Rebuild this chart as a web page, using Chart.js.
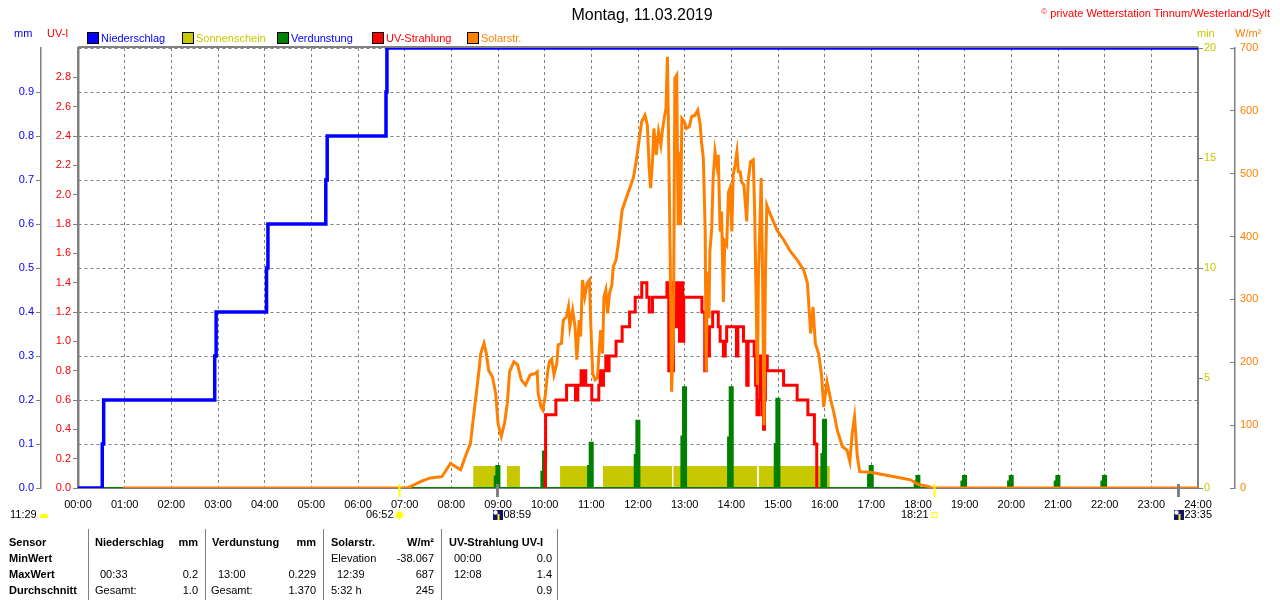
<!DOCTYPE html>
<html lang="de">
<head>
<meta charset="utf-8">
<title>Montag, 11.03.2019</title>
<script src="https://cdn.jsdelivr.net/npm/chart.js@4.4.1/dist/chart.umd.min.js"></script>
<style>
  html, body { margin: 0; padding: 0; background: #fff; }
  #page { position: relative; width: 1280px; height: 600px; overflow: hidden;
          font-family: "Liberation Sans", Arial, sans-serif; font-size: 11px; color: #000; }
  #page canvas { position: absolute; left: 0; top: 0; }
  .t { position: absolute; white-space: nowrap; line-height: 12px; height: 12px; }
  .r { text-align: right; }
  .b { font-weight: bold; }
  .sq { position: absolute; top: 32px; width: 10px; height: 10px; border: 1px solid #000; }
  .sep { position: absolute; top: 529px; width: 1px; height: 71px; background: #808080; }
</style>
</head>
<body>
<div id="page">
  <canvas id="chart" width="1280" height="600"></canvas>

  <!-- header -->
  <div class="t" style="left:0;width:1284px;text-align:center;top:6px;font-size:16px;line-height:18px;height:18px;">Montag, 11.03.2019</div>
  <div class="t r" style="right:10px;top:6px;color:#ff0000;"><span style="font-size:8px;vertical-align:3px;">&copy;</span> private Wetterstation Tinnum/Westerland/Sylt</div>

  <!-- axis units -->
  <div class="t" style="left:14px;top:27px;color:#0000ff;">mm</div>
  <div class="t" style="left:47px;top:27px;color:#ff0000;">UV-I</div>
  <div class="t" style="left:1197px;top:27px;color:#c8c800;">min</div>
  <div class="t" style="left:1235px;top:27px;color:#ff8000;">W/m²</div>

  <!-- legend -->
  <div class="sq" style="left:87px;background:#0000ff;"></div>
  <div class="t" style="left:101px;top:32px;color:#0000ff;">Niederschlag</div>
  <div class="sq" style="left:182px;background:#c8c800;"></div>
  <div class="t" style="left:196px;top:32px;color:#c8c800;">Sonnenschein</div>
  <div class="sq" style="left:277px;background:#008000;"></div>
  <div class="t" style="left:291px;top:32px;color:#0000ff;">Verdunstung</div>
  <div class="sq" style="left:372px;background:#ff0000;"></div>
  <div class="t" style="left:386px;top:32px;color:#ff0000;">UV-Strahlung</div>
  <div class="sq" style="left:467px;background:#ff8000;"></div>
  <div class="t" style="left:481px;top:32px;color:#ff8000;">Solarstr.</div>

  <!-- summary table -->
  <div class="sep" style="left:88px;"></div>
  <div class="sep" style="left:205px;"></div>
  <div class="sep" style="left:323px;"></div>
  <div class="sep" style="left:441px;"></div>
  <div class="sep" style="left:557px;"></div>

  <div class="t b" style="left:9px;top:536px;">Sensor</div>
  <div class="t b" style="left:9px;top:552px;">MinWert</div>
  <div class="t b" style="left:9px;top:568px;">MaxWert</div>
  <div class="t b" style="left:9px;top:584px;">Durchschnitt</div>

  <div class="t b" style="left:95px;top:536px;">Niederschlag</div>
  <div class="t b r" style="right:1082px;top:536px;">mm</div>
  <div class="t" style="left:100px;top:568px;">00:33</div>
  <div class="t r" style="right:1082px;top:568px;">0.2</div>
  <div class="t" style="left:95px;top:584px;">Gesamt:</div>
  <div class="t r" style="right:1082px;top:584px;">1.0</div>

  <div class="t b" style="left:212px;top:536px;">Verdunstung</div>
  <div class="t b r" style="right:964px;top:536px;">mm</div>
  <div class="t" style="left:218px;top:568px;">13:00</div>
  <div class="t r" style="right:964px;top:568px;">0.229</div>
  <div class="t" style="left:211px;top:584px;">Gesamt:</div>
  <div class="t r" style="right:964px;top:584px;">1.370</div>

  <div class="t b" style="left:331px;top:536px;">Solarstr.</div>
  <div class="t b r" style="right:846px;top:536px;">W/m²</div>
  <div class="t" style="left:331px;top:552px;">Elevation</div>
  <div class="t r" style="right:846px;top:552px;">-38.067</div>
  <div class="t" style="left:337px;top:568px;">12:39</div>
  <div class="t r" style="right:846px;top:568px;">687</div>
  <div class="t" style="left:331px;top:584px;">5:32 h</div>
  <div class="t r" style="right:846px;top:584px;">245</div>

  <div class="t b" style="left:449px;top:536px;">UV-Strahlung UV-I</div>
  <div class="t" style="left:454px;top:552px;">00:00</div>
  <div class="t r" style="right:728px;top:552px;">0.0</div>
  <div class="t" style="left:454px;top:568px;">12:08</div>
  <div class="t r" style="right:728px;top:568px;">1.4</div>
  <div class="t r" style="right:728px;top:584px;">0.9</div>
</div>

<script>
// Niederschlag (cumulative, mm)
const rainHours = [0, 0.52, 0.55, 2.93, 2.96, 4.04, 4.07, 5.31, 5.34, 6.60, 6.62, 24];
const rainMm    = [0, 0.1,  0.2,  0.3,  0.4,  0.5,  0.6,  0.7,  0.8,  0.9,  1.0,  1.0];

// Sonnenschein (min per minute slot)
const sunStart = [8.47, 9.19, 10.33, 11.25, 12.76, 14.59];
const sunEnd   = [8.98, 9.47, 10.98, 12.73, 14.55, 16.11];
const sunMin   = [1, 1, 1, 1, 1, 1];

// Verdunstung (mm, hourly)
const evapHours = [9, 10, 11, 12, 13, 14, 15, 16, 17, 18, 19, 20, 21, 22];
const evapLow   = [0.026, 0.037, 0.05, 0.075, 0.117, 0.115, 0.1, 0.077, 0.03, 0.015, 0.015, 0.015, 0.015, 0.015];
const evapHigh  = [0.05, 0.083, 0.103, 0.153, 0.229, 0.229, 0.203, 0.155, 0.05, 0.027, 0.027, 0.027, 0.027, 0.027];

// UV-Strahlung (UV-I)
const uvHours = [10.00, 10.01, 10.02, 10.24, 10.47, 10.66, 10.71, 10.78, 10.81, 10.83, 10.88, 11.01, 11.16, 11.19,
                 11.24, 11.26, 11.31, 11.35, 11.38, 11.53, 11.66, 11.82, 11.94, 12.08, 12.19, 12.24, 12.31, 12.62,
                 12.66, 12.76, 12.81, 12.84, 12.87, 12.89, 12.93, 12.96, 12.98, 13.37, 13.43, 13.46, 13.48, 13.50,
                 13.53, 13.60, 13.72, 13.76, 13.83, 13.87, 13.90, 14.11, 14.14, 14.26, 14.33, 14.36, 14.49, 14.52,
                 14.55, 14.59, 14.62, 14.66, 14.69, 14.71, 14.73, 14.77, 15.12, 15.41, 15.64, 15.78, 15.83];
const uvIndex = [0, 0.2, 0.5, 0.6, 0.7, 0.6, 0.7, 0.8, 0.7, 0.8, 0.7, 0.6, 0.7, 0.8,
                 0.7, 0.8, 0.9, 0.8, 0.9, 1.0, 1.1, 1.2, 1.3, 1.4, 1.3, 1.2, 1.3, 1.4,
                 0.8, 1.4, 1.1, 1.4, 1.1, 1.0, 1.4, 1.0, 1.3, 1.2, 0.8, 0.9, 1.1, 0.9,
                 1.1, 1.2, 1.1, 1.0, 0.9, 1.0, 1.1, 0.9, 1.1, 1.0, 0.7, 1.0, 0.9, 0.7,
                 0.5, 0.6, 0.9, 0.5, 0.4, 0.6, 0.9, 0.8, 0.7, 0.6, 0.5, 0.3, 0];

// Solarstrahlung (W/m²)
const solarHours = [0.97, 7.05, 7.12, 7.34, 7.55, 7.80, 7.98, 8.09, 8.20, 8.30, 8.41, 8.50, 8.57, 8.63, 8.70,
                    8.75, 8.80, 8.88, 8.95, 9.00, 9.07, 9.14, 9.20, 9.25, 9.34, 9.42, 9.50, 9.59, 9.69, 9.79,
                    9.84, 9.86, 9.92, 9.96, 10.01, 10.06, 10.10, 10.15, 10.20, 10.26, 10.29, 10.36, 10.40, 10.44,
                    10.47, 10.51, 10.54, 10.60, 10.65, 10.69, 10.74, 10.77, 10.81, 10.86, 10.91, 10.96, 10.99, 11.03,
                    11.08, 11.13, 11.16, 11.20, 11.24, 11.27, 11.31, 11.35, 11.39, 11.44, 11.47, 11.53, 11.59, 11.66,
                    11.77, 11.90, 11.96, 12.01, 12.08, 12.15, 12.20, 12.24, 12.27, 12.31, 12.34, 12.39, 12.44, 12.49,
                    12.52, 12.56, 12.60, 12.63, 12.66, 12.69, 12.72, 12.76, 12.79, 12.83, 12.86, 12.89, 12.91, 12.94,
                    12.99, 13.04, 13.10, 13.15, 13.22, 13.28, 13.33, 13.36, 13.40, 13.44, 13.46, 13.49, 13.52, 13.54,
                    13.58, 13.61, 13.65, 13.69, 13.72, 13.76, 13.79, 13.83, 13.86, 13.90, 13.94, 13.97, 14.01, 14.04,
                    14.08, 14.12, 14.15, 14.19, 14.22, 14.27, 14.33, 14.36, 14.41, 14.47, 14.50, 14.53, 14.56, 14.58,
                    14.64, 14.67, 14.70, 14.73, 14.76, 14.81, 14.98, 15.12, 15.27, 15.41, 15.55, 15.63, 15.70, 15.75,
                    15.80, 15.87, 15.93, 15.98, 16.05, 16.13, 16.20, 16.27, 16.38, 16.48, 16.54, 16.59, 16.64, 16.70,
                    16.75, 16.98, 17.27, 17.55, 17.84, 18.00, 18.25, 18.27, 24];
const solarWm2 = [0, 0, 2, 10, 16, 18, 39, 34, 29, 50, 71, 129, 172, 214, 230,
                  214, 187, 177, 151, 103, 82, 103, 135, 185, 201, 196, 172, 164, 180, 182,
                  185, 151, 129, 124, 145, 182, 201, 205, 180, 198, 228, 230, 267, 270,
                  273, 288, 257, 283, 257, 204, 267, 241, 331, 304, 326, 331, 257, 182,
                  172, 175, 209, 251, 214, 304, 315, 278, 310, 323, 352, 363, 395, 442,
                  466, 493, 519, 546, 583, 593, 578, 509, 477, 519, 572, 530, 567, 546,
                  567, 588, 604, 686, 535, 365, 153, 243, 652, 657, 418, 535, 418, 588,
                  583, 572, 575, 591, 593, 601, 580, 551, 525, 408, 185, 344, 270, 376,
                  413, 493, 535, 514, 530, 408, 440, 296, 392, 387, 471, 477, 408, 498,
                  514, 535, 503, 503, 487, 482, 424, 487, 519, 522, 440, 307, 164, 334,
                  493, 334, 100, 334, 450, 440, 410, 395, 376, 363, 347, 326, 246, 288,
                  230, 214, 182, 129, 169, 140, 119, 92, 66, 60, 42, 87, 113, 50,
                  26, 25, 21, 17, 13, 6, 2, 0, 0];

// Sonne / Mond
const dayLength   = '11:29';
const eventHours  = [6.87, 8.98, 18.35, 23.58];
const eventLabels = ['06:52', '08:59', '18:21', '23:35'];
const eventKinds  = ['sunrise', 'moonrise', 'sunset', 'moonset'];

const xy = (xs, ys) => xs.map((x, i) => ({ x: x, y: ys[i] }));

const evapData = [{ x: 0, y: 0 }];
evapHours.forEach((h, i) => {
  evapData.push({ x: h - 0.07, y: evapLow[i] }, { x: h - 0.035, y: evapHigh[i] }, { x: h + 0.03, y: 0 });
});
evapData.push({ x: 24, y: 0 });

const sunData = [{ x: 0, y: 0 }];
sunStart.forEach((s, i) => {
  sunData.push({ x: s, y: sunMin[i] }, { x: sunEnd[i], y: 0 });
});
sunData.push({ x: 24, y: 0 });

const GRAY = '#808080';
const FONT = { family: '"Liberation Sans", Arial, sans-serif', size: 11 };

// top frame line + sun/moon markers under the time axis
const extras = {
  id: 'extras',
  beforeDatasetsDraw(chart) {
    const { ctx, chartArea } = chart;
    ctx.save();
    ctx.strokeStyle = GRAY;
    ctx.lineWidth = 2;
    ctx.beginPath();
    ctx.moveTo(chartArea.left, chartArea.top - 1);
    ctx.lineTo(chartArea.right, chartArea.top - 1);
    ctx.stroke();
    ctx.restore();
  },
  afterDraw(chart) {
    const { ctx } = chart;
    const xs = chart.scales.x;
    const ly = 515;
    ctx.save();
    ctx.font = '11px "Liberation Sans", Arial, sans-serif';
    ctx.textBaseline = 'middle';
    ctx.fillStyle = '#000';
    ctx.textAlign = 'left';
    ctx.fillText(dayLength, 10, ly);
    // small moon dome
    ctx.fillStyle = '#ffff00';
    ctx.beginPath();
    ctx.arc(44, ly + 3, 4.5, Math.PI, 0);
    ctx.fill();

    eventHours.forEach((h, i) => {
      const px = Math.round(xs.getPixelForValue(h)) + 0.5;
      const kind = eventKinds[i];
      const sun = kind.startsWith('sun');
      ctx.strokeStyle = sun ? '#ffff00' : GRAY;
      ctx.lineWidth = sun ? 2 : 3;
      ctx.beginPath();
      ctx.moveTo(px, 484);
      ctx.lineTo(px, 497);
      ctx.stroke();
      ctx.fillStyle = '#000';
      if (sun) {
        ctx.textAlign = 'right';
        ctx.fillText(eventLabels[i], px - 6, ly);
        if (kind === 'sunrise') {
          ctx.strokeStyle = '#ffff80';
          ctx.lineWidth = 1;
          for (let k = 0; k < 8; k++) {
            const a = k * Math.PI / 4;
            ctx.beginPath();
            ctx.moveTo(px + Math.cos(a) * 4, ly + Math.sin(a) * 4);
            ctx.lineTo(px + Math.cos(a) * 6, ly + Math.sin(a) * 6);
            ctx.stroke();
          }
          ctx.fillStyle = '#ffff00';
          ctx.beginPath();
          ctx.arc(px, ly, 3.5, 0, Math.PI * 2);
          ctx.fill();
        } else {
          ctx.strokeStyle = '#ffff00';
          ctx.lineWidth = 1;
          ctx.strokeRect(px - 2.5, ly - 2.5, 5, 5);
        }
      } else {
        ctx.fillStyle = '#10106e';
        ctx.fillRect(px - 4.5, ly - 5, 10, 10);
        ctx.fillStyle = '#ffffff';
        ctx.beginPath();
        ctx.arc(px - 2, ly - 2.5, 2.2, 0, Math.PI * 2);
        ctx.fill();
        ctx.fillStyle = '#ffff00';
        ctx.fillRect(px, ly - 1, 2, 6);
        ctx.fillStyle = '#000';
        ctx.textAlign = 'left';
        ctx.fillText(eventLabels[i], px + 6, ly);
      }
    });
    ctx.restore();
  }
};

new Chart(document.getElementById('chart').getContext('2d'), {
  type: 'line',
  data: {
    datasets: [
      {
        label: 'Niederschlag',
        data: xy(rainHours, rainMm),
        yAxisID: 'mm',
        borderColor: '#0000ff',
        borderWidth: 3.5,
        stepped: true,
        pointRadius: 0,
        order: 0
      },
      {
        label: 'Solarstr.',
        data: xy(solarHours, solarWm2),
        yAxisID: 'w',
        borderColor: '#ff8000',
        borderWidth: 3,
        pointRadius: 0,
        order: 1
      },
      {
        label: 'UV-Strahlung',
        data: xy(uvHours, uvIndex),
        yAxisID: 'uv',
        borderColor: '#ff0000',
        borderWidth: 3,
        stepped: true,
        pointRadius: 0,
        order: 2
      },
      {
        label: 'Verdunstung',
        data: evapData,
        yAxisID: 'mm',
        borderColor: '#008000',
        backgroundColor: '#008000',
        borderWidth: 2,
        stepped: true,
        fill: 'origin',
        pointRadius: 0,
        order: 3
      },
      {
        label: 'Sonnenschein',
        data: sunData,
        yAxisID: 'min',
        borderColor: '#c8c800',
        backgroundColor: '#c8c800',
        borderWidth: 0,
        stepped: true,
        fill: 'origin',
        pointRadius: 0,
        order: 4
      }
    ]
  },
  options: {
    responsive: false,
    devicePixelRatio: 1,
    animation: false,
    layout: { padding: { top: 48, left: 0, right: 0, bottom: 0 } },
    plugins: {
      legend: { display: false },
      tooltip: { enabled: false }
    },
    scales: {
      x: {
        type: 'linear',
        min: 0,
        max: 24,
        afterFit: s => { s.height = 112; },
        ticks: {
          stepSize: 1,
          autoSkip: false,
          maxRotation: 0,
          color: '#000',
          font: FONT,
          padding: 10,
          callback: v => (v < 10 ? '0' : '') + v + ':00'
        },
        grid: { color: GRAY, drawTicks: false },
        border: { color: GRAY, width: 1, dash: [3, 3] }
      },
      mm: {
        type: 'linear',
        position: 'left',
        weight: 1,
        min: 0,
        max: 1,
        afterFit: s => { s.width = 41; },
        ticks: {
          stepSize: 0.1,
          color: '#0000ff',
          font: FONT,
          padding: 2,
          callback: v => (v > 0.99 ? '' : v.toFixed(1))
        },
        grid: {
          color: GRAY,
          tickColor: ctx => (ctx.tick && ctx.tick.value > 0.99 ? 'rgba(0,0,0,0)' : GRAY),
          tickLength: 5
        },
        border: { color: GRAY, width: 1.5, dash: [3, 3] }
      },
      uv: {
        type: 'linear',
        position: 'left',
        weight: 0,
        min: 0,
        max: 3,
        afterFit: s => { s.width = 37; },
        ticks: {
          stepSize: 0.2,
          color: '#ff0000',
          font: FONT,
          padding: 2,
          callback: v => (v > 2.99 ? '' : v.toFixed(1))
        },
        grid: {
          drawOnChartArea: false,
          color: GRAY,
          tickColor: ctx => (ctx.tick && ctx.tick.value > 2.99 ? 'rgba(0,0,0,0)' : GRAY),
          tickLength: 5
        },
        border: { color: GRAY, width: 2.5 }
      },
      min: {
        type: 'linear',
        position: 'right',
        weight: 0,
        min: 0,
        max: 20,
        afterFit: s => { s.width = 37; },
        ticks: { stepSize: 5, color: '#c8c800', font: FONT, padding: 1 },
        grid: { drawOnChartArea: false, color: GRAY, tickColor: GRAY, tickLength: 5 },
        border: { color: GRAY, width: 2 }
      },
      w: {
        type: 'linear',
        position: 'right',
        weight: 1,
        min: 0,
        max: 700,
        afterFit: s => { s.width = 45; },
        ticks: { stepSize: 100, color: '#ff8000', font: FONT, padding: 10 },
        grid: { drawOnChartArea: false, color: GRAY, tickColor: GRAY, tickLength: -5 },
        border: { color: GRAY, width: 1.5 }
      }
    }
  },
  plugins: [extras]
});
</script>
</body>
</html>
